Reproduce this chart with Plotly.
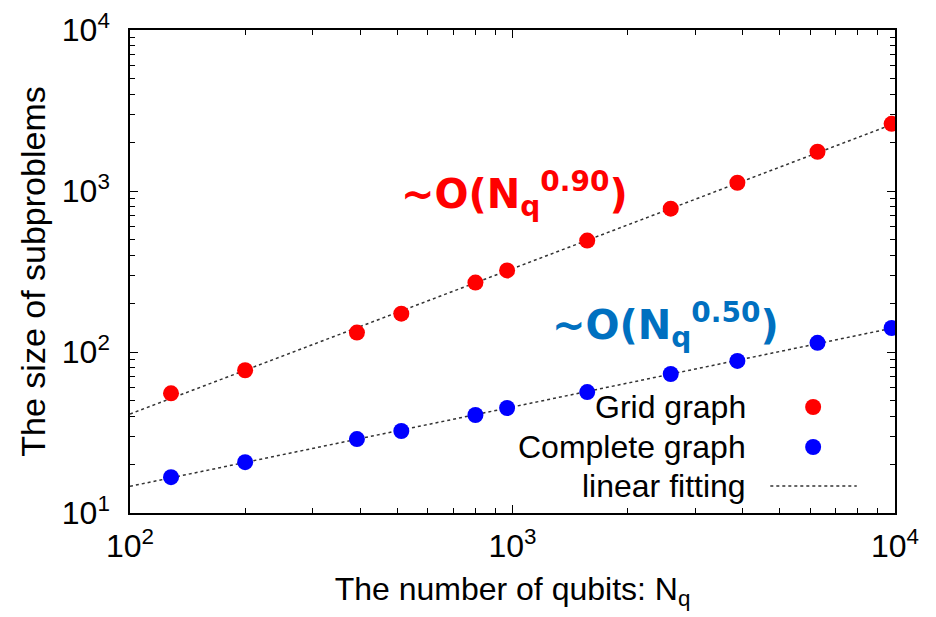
import numpy as np
import plotly.graph_objects as go

# ---- data ----
n_qubits = [128, 200, 392, 512, 800, 968, 1568, 2592, 3872, 6272, 9800]
grid_size = [55.4, 77, 132, 173, 270, 321, 492, 777, 1125, 1753, 2614]
complete_size = [16.7, 20.7, 28.8, 32.3, 40.6, 44.9, 56.4, 73, 88, 114, 141]

x_range_log = [2, 4]
y_range_log = [1, 4]
x_tickvals = [100, 1000, 10000]
x_ticktext = ["10<sup>2</sup>", "10<sup>3</sup>", "10<sup>4</sup>"]
y_tickvals = [10, 100, 1000, 10000]
y_ticktext = ["10<sup>1</sup>", "10<sup>2</sup>", "10<sup>3</sup>", "10<sup>4</sup>"]
legend_labels = ["Grid graph", "Complete graph", "linear fitting"]
red_label = "~O(N<sub>q</sub><sup>0.90</sup>)"
blue_label = "~O(N<sub>q</sub><sup>0.50</sup>)"

RED = "#ff0000"
BLUE = "#0000ff"
TXT_BLUE = "#0070c0"
FIT = "#333333"

def fit_line(xs, ys):
    k, b = np.polyfit(np.log10(xs), np.log10(ys), 1)
    xe = np.array([10 ** x_range_log[0], 10 ** x_range_log[1]])
    return xe, 10 ** (b + k * np.log10(xe))

fig = go.Figure()
for ys in (grid_size, complete_size):
    xe, ye = fit_line(n_qubits, ys)
    fig.add_trace(go.Scatter(x=xe, y=ye, mode="lines",
                             line=dict(color=FIT, width=1.5, dash="3px,3px"),
                             showlegend=False, hoverinfo="skip"))
fig.add_trace(go.Scatter(x=n_qubits, y=grid_size, mode="markers",
                         marker=dict(color=RED, size=16), name=legend_labels[0],
                         showlegend=False))
fig.add_trace(go.Scatter(x=n_qubits, y=complete_size, mode="markers",
                         marker=dict(color=BLUE, size=16), name=legend_labels[1],
                         showlegend=False))

def minor_vals(lo, hi):
    return [m * 10 ** e for e in range(lo, hi) for m in range(2, 10)]

tick_font = dict(family="Liberation Sans, Arial, sans-serif", size=32, color="black")
ytitle_font = dict(family="Liberation Sans, Arial, sans-serif", size=34, color="black")
common = dict(type="log", showline=True, linecolor="black", linewidth=1.5,
              mirror="ticks", ticks="inside", ticklen=8, tickwidth=1.2,
              tickcolor="black", showgrid=False, zeroline=False,
              tickfont=tick_font, automargin=False)

fig.update_xaxes(range=x_range_log, tickmode="array", tickvals=x_tickvals,
                 ticktext=x_ticktext, **common,
                 minor=dict(ticks="inside", ticklen=5, tickwidth=1, tickcolor="black",
                            tickmode="array", tickvals=minor_vals(2, 4), showgrid=False),
                 title=dict(text="The number of qubits: N<sub>q</sub>",
                            font=tick_font, standoff=14),
                 ticklabelstandoff=4)
fig.update_yaxes(range=y_range_log, tickmode="array", tickvals=y_tickvals,
                 ticktext=y_ticktext, **common,
                 minor=dict(ticks="inside", ticklen=5, tickwidth=1, tickcolor="black",
                            tickmode="array", tickvals=minor_vals(1, 4), showgrid=False),
                 title=dict(text="The size of subproblems", font=ytitle_font, standoff=6),
                 ticklabelstandoff=12)

ann_font = dict(family="DejaVu Sans", size=40)
annotations = [
    dict(x=0.503, y=0.66, xref="paper", yref="paper", text="<b>" + red_label + "</b>",
         xanchor="center", yanchor="middle",
         showarrow=False, font=dict(color=RED, **ann_font)),
    dict(x=0.700, y=0.39, xref="paper", yref="paper", text="<b>" + blue_label + "</b>",
         xanchor="center", yanchor="middle",
         showarrow=False, font=dict(color=TXT_BLUE, **ann_font)),
]
leg_font = dict(family="Liberation Sans, Arial, sans-serif", size=32, color="black")
leg_y = [0.2195, 0.1366, 0.0559]
for lab, yy in zip(legend_labels, leg_y):
    annotations.append(dict(x=0.808, y=yy, xref="paper", yref="paper", text=lab,
                            xanchor="right", yanchor="middle",
                            showarrow=False, font=leg_font))

shapes = []
for col, yy in zip([RED, BLUE], leg_y[:2]):
    shapes.append(dict(type="circle", xref="paper", yref="paper",
                       xsizemode="pixel", ysizemode="pixel",
                       xanchor=0.893, yanchor=yy, x0=-8, x1=8, y0=-8, y1=8,
                       fillcolor=col, line=dict(width=0)))
shapes.append(dict(type="line", xref="paper", yref="paper", x0=0.837, x1=0.950,
                   y0=leg_y[2], y1=leg_y[2],
                   line=dict(color=FIT, width=1.5, dash="3px,3px")))

fig.update_layout(width=936, height=617, paper_bgcolor="white", plot_bgcolor="white",
                  margin=dict(l=130, r=41, t=30, b=104),
                  annotations=annotations, shapes=shapes, showlegend=False)

fig.write_html("out.html")
